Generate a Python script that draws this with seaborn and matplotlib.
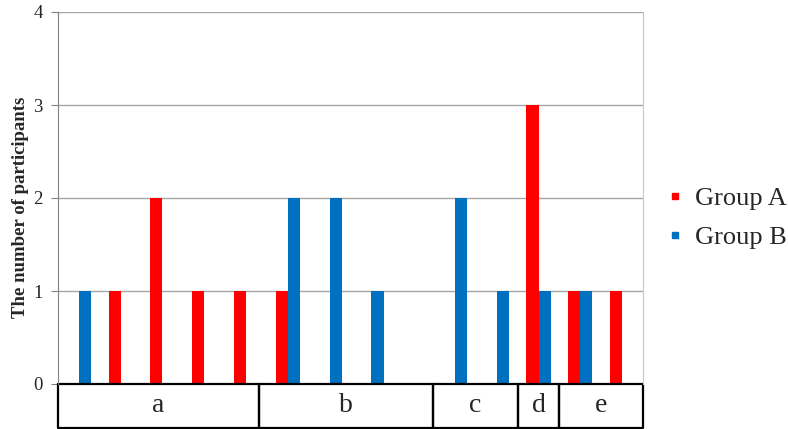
import matplotlib
matplotlib.use("Agg")
import matplotlib.pyplot as plt
from matplotlib.lines import Line2D
import seaborn as sns
import pandas as pd

# one slot per respondent position, grouped into categories a-e
slots = list(range(14))
group_a = [0, 1, 2, 1, 1, 1, 0, 0, 0, 0, 0, 3, 1, 1]
group_b = [1, 0, 0, 0, 0, 2, 2, 1, 0, 2, 1, 1, 1, 0]
series = ["Group A", "Group B"]
categories = ["a", "b", "c", "d", "e"]
# category box edges on the slot axis
cat_edges = [-0.5, 4.3, 8.47, 10.5, 11.5, 13.5]

colors = {"Group A": "#FF0000", "Group B": "#0070C0"}

df = pd.DataFrame({
    "slot": slots * 2,
    "value": group_a + group_b,
    "group": [series[0]] * len(slots) + [series[1]] * len(slots),
})

sns.set_style("white")
plt.rcParams["font.family"] = ["Liberation Serif", "DejaVu Serif"]

fig = plt.figure(figsize=(7.88, 4.29), dpi=100)
ax = fig.add_axes([58 / 788, 45 / 429, 585 / 788, 372 / 429])

sns.barplot(data=df, x="slot", y="value", hue="group", palette=colors,
            width=0.58, linewidth=0, saturation=1, ax=ax, legend=False)

ax.set_xlim(-0.5, 13.5)
ax.set_ylim(0, 4)
ax.set_yticks([0, 1, 2, 3, 4])
ax.set_yticklabels(["0", "1", "2", "3", "4"], fontsize=13.5)
ax.set_xticks([])
ax.set_xlabel("")
ax.set_ylabel("The number of participants", fontsize=13.5, fontweight="bold")
ax.yaxis.set_label_coords(-0.049, 0.476)
ax.grid(axis="y", color="#A6A6A6", linewidth=1)
ax.set_axisbelow(True)
ax.tick_params(axis="y", length=5, color="#808080", direction="out", left=True, pad=6)

for side in ["top", "bottom"]:
    ax.spines[side].set_visible(False)
ax.spines["left"].set_color("#808080")
ax.spines["right"].set_color("#C8C8C8")

# category boxes under the axis
trans = ax.get_xaxis_transform()
box_bottom = -44 / 372
for i, cat in enumerate(categories):
    x0, x1 = cat_edges[i], cat_edges[i + 1]
    ax.plot([x0, x1, x1, x0, x0], [0, 0, box_bottom, box_bottom, 0],
            color="black", linewidth=1.6, transform=trans, clip_on=False)
    ax.text((x0 + x1) / 2, box_bottom / 2, cat, transform=trans,
            ha="center", va="center", fontsize=20)

handles = [Line2D([], [], marker="s", linestyle="", markersize=5,
                  color=colors[s]) for s in series]
fig.legend(handles, series, loc="center left", bbox_to_anchor=(671 / 788, 0.492),
           frameon=False, fontsize=19, handletextpad=0.6, labelspacing=0.6,
           handlelength=0.3, borderpad=0, borderaxespad=0)

fig.savefig("out.png", dpi=100)
